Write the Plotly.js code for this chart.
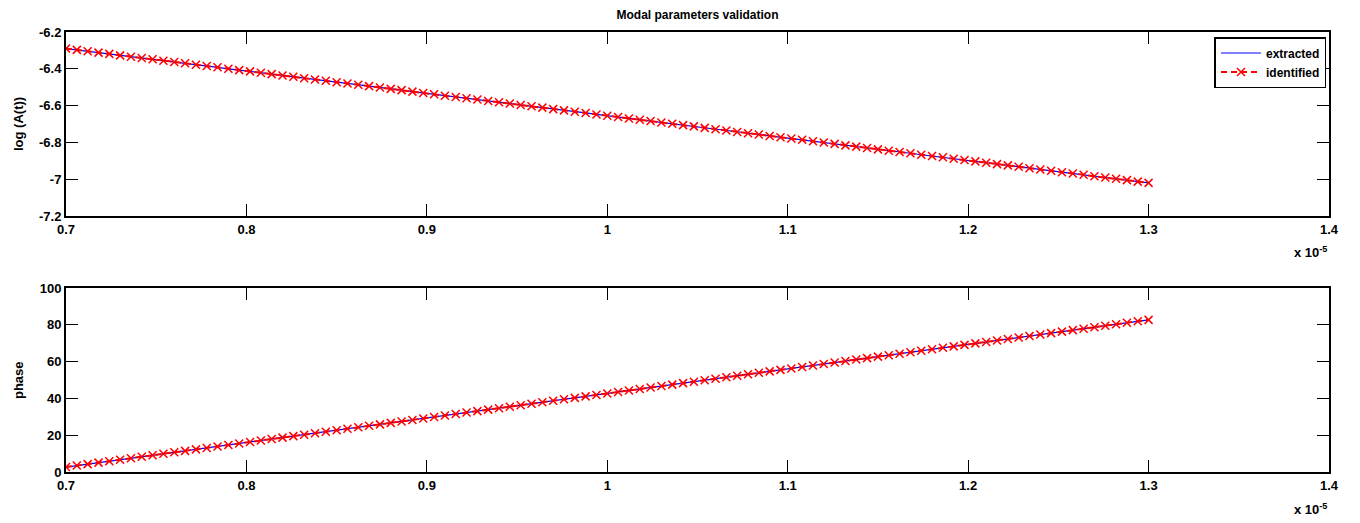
<!DOCTYPE html>
<html>
<head>
<meta charset="utf-8">
<script src="https://cdn.plot.ly/plotly-3.0.1.min.js"></script>
<style>html,body{margin:0;padding:0;background:#fff;}#chart{width:1360px;height:523px;}</style>
</head>
<body>
<div id="chart"></div>
<script>
// time axis in units of 1e-5
const time = [0.700,0.706,0.712,0.718,0.724,0.730,0.736,0.742,0.748,0.754,
0.760,0.766,0.772,0.778,0.784,0.790,0.796,0.802,0.808,0.814,
0.820,0.826,0.832,0.838,0.844,0.850,0.856,0.862,0.868,0.874,
0.880,0.886,0.892,0.898,0.904,0.910,0.916,0.922,0.928,0.934,
0.940,0.946,0.952,0.958,0.964,0.970,0.976,0.982,0.988,0.994,
1.000,1.006,1.012,1.018,1.024,1.030,1.036,1.042,1.048,1.054,
1.060,1.066,1.072,1.078,1.084,1.090,1.096,1.102,1.108,1.114,
1.120,1.126,1.132,1.138,1.144,1.150,1.156,1.162,1.168,1.174,
1.180,1.186,1.192,1.198,1.204,1.210,1.216,1.222,1.228,1.234,
1.240,1.246,1.252,1.258,1.264,1.270,1.276,1.282,1.288,1.294,1.300];

const logAmp = [-6.290,-6.297,-6.305,-6.312,-6.319,-6.327,-6.334,-6.341,-6.348,-6.356,
-6.363,-6.370,-6.378,-6.385,-6.392,-6.400,-6.407,-6.414,-6.421,-6.429,
-6.436,-6.443,-6.451,-6.458,-6.465,-6.473,-6.480,-6.487,-6.494,-6.502,
-6.509,-6.516,-6.524,-6.531,-6.538,-6.546,-6.553,-6.560,-6.567,-6.575,
-6.582,-6.589,-6.597,-6.604,-6.611,-6.619,-6.626,-6.633,-6.640,-6.648,
-6.655,-6.662,-6.670,-6.677,-6.684,-6.692,-6.699,-6.706,-6.713,-6.721,
-6.728,-6.735,-6.743,-6.750,-6.757,-6.765,-6.772,-6.779,-6.786,-6.794,
-6.801,-6.808,-6.816,-6.823,-6.830,-6.838,-6.845,-6.852,-6.859,-6.867,
-6.874,-6.881,-6.889,-6.896,-6.903,-6.911,-6.918,-6.925,-6.932,-6.940,
-6.947,-6.954,-6.962,-6.969,-6.976,-6.984,-6.991,-6.998,-7.005,-7.013,-7.020];

const phase = [2.7,3.5,4.3,5.1,5.9,6.7,7.5,8.3,9.1,9.9,
10.7,11.5,12.3,13.1,13.9,14.7,15.5,16.3,17.1,17.9,
18.7,19.5,20.3,21.1,21.9,22.7,23.5,24.3,25.1,25.9,
26.7,27.5,28.3,29.1,29.9,30.7,31.5,32.3,33.1,33.9,
34.7,35.5,36.3,37.1,37.9,38.7,39.5,40.3,41.1,41.9,
42.7,43.5,44.3,45.1,45.9,46.7,47.5,48.3,49.1,49.9,
50.7,51.5,52.3,53.1,53.9,54.7,55.5,56.3,57.1,57.9,
58.7,59.5,60.3,61.1,61.9,62.7,63.5,64.3,65.1,65.9,
66.7,67.5,68.3,69.1,69.9,70.7,71.5,72.3,73.1,73.9,
74.7,75.5,76.3,77.1,77.9,78.7,79.5,80.3,81.1,81.9,82.7];

const xTickVals = [0.7,0.8,0.9,1.0,1.1,1.2,1.3,1.4];
const xTickText = ['0.7','0.8','0.9','1','1.1','1.2','1.3','1.4'];
const y1TickVals = [-6.2,-6.4,-6.6,-6.8,-7.0,-7.2];
const y1TickText = ['-6.2','-6.4','-6.6','-6.8','-7','-7.2'];
const y2TickVals = [0,20,40,60,80,100];
const y2TickText = ['0','20','40','60','80','100'];

const FONT = 'Liberation Sans, Arial, sans-serif';
const tickFont = {family: FONT, size: 13, color: '#000', weight: 'bold'};
const labFont = {family: FONT, size: 13, color: '#000', weight: 'bold'};

const traces = [
  {x: time, y: logAmp, xaxis: 'x', yaxis: 'y', mode: 'lines', name: 'extracted',
   line: {color: '#0000ff', width: 1.2}},
  {x: time, y: logAmp, xaxis: 'x', yaxis: 'y', mode: 'lines+markers', name: 'identified',
   line: {color: '#ff0000', width: 2, dash: '6px,4px'},
   marker: {symbol: 'x-thin-open', size: 8, color: '#ff0000', line: {color: '#ff0000', width: 1.5}}},
  {x: time, y: phase, xaxis: 'x2', yaxis: 'y2', mode: 'lines', name: 'extracted', showlegend: false,
   line: {color: '#0000ff', width: 1.2}},
  {x: time, y: phase, xaxis: 'x2', yaxis: 'y2', mode: 'lines+markers', name: 'identified', showlegend: false,
   line: {color: '#ff0000', width: 2, dash: '6px,4px'},
   marker: {symbol: 'x-thin-open', size: 8, color: '#ff0000', line: {color: '#ff0000', width: 1.5}}}
];

function xax(anchor) {
  return {anchor: anchor, range: [0.7, 1.4], tickvals: xTickVals, ticktext: xTickText,
    ticks: 'inside', ticklen: 12, tickwidth: 1, tickcolor: '#000', mirror: 'ticks',
    showline: true, linecolor: '#000', linewidth: 2, showgrid: false, zeroline: false,
    tickfont: tickFont};
}
function yax(anchor, domain, range, vals, text) {
  return {anchor: anchor, domain: domain, range: range, tickvals: vals, ticktext: text,
    ticks: 'inside', ticklen: 12, tickwidth: 1, tickcolor: '#000', mirror: 'ticks',
    showline: true, linecolor: '#000', linewidth: 2, showgrid: false, zeroline: false,
    tickfont: tickFont};
}

const layout = {
  width: 1360, height: 523,
  margin: {l: 66, r: 31, t: 0, b: 0},
  paper_bgcolor: '#fff', plot_bgcolor: '#fff',
  showlegend: true,
  legend: {x: 0.998, xanchor: 'right', y: 1 - 37/523, yanchor: 'top',
    bordercolor: '#000', borderwidth: 1.5, bgcolor: '#fff',
    font: {family: FONT, size: 12, color: '#000', weight: 'bold'},
    tracegroupgap: 0, itemwidth: 40},
  title: {text: 'Modal parameters validation', x: 0.5, xref: 'paper', y: 1 - 15/523, yref: 'container',
    yanchor: 'middle', font: {family: FONT, size: 12, color: '#000', weight: 'bold'}},
  xaxis: xax('y'),
  yaxis: yax('x', [0.587, 0.9388], [-7.2, -6.2], y1TickVals, y1TickText),
  xaxis2: xax('y2'),
  yaxis2: yax('x2', [0.0975, 0.4493], [0, 100], y2TickVals, y2TickText),
  annotations: [
    {text: 'x 10<sup>-5</sup>', xref: 'paper', yref: 'paper', x: 1.0, y: 1 - 252/523,
     xanchor: 'right', yanchor: 'middle', showarrow: false, font: labFont},
    {text: 'x 10<sup>-5</sup>', xref: 'paper', yref: 'paper', x: 1.0, y: 1 - 509/523,
     xanchor: 'right', yanchor: 'middle', showarrow: false, font: labFont},
    {text: 'log (A(t))', xref: 'paper', yref: 'paper', x: -48/1263, y: (0.587+0.9388)/2,
     xanchor: 'center', yanchor: 'middle', textangle: -90, showarrow: false, font: labFont},
    {text: 'phase', xref: 'paper', yref: 'paper', x: -48/1263, y: (0.0975+0.4493)/2,
     xanchor: 'center', yanchor: 'middle', textangle: -90, showarrow: false, font: labFont}
  ]
};

Plotly.newPlot('chart', traces, layout, {displayModeBar: false, staticPlot: true});
</script>
</body>
</html>
